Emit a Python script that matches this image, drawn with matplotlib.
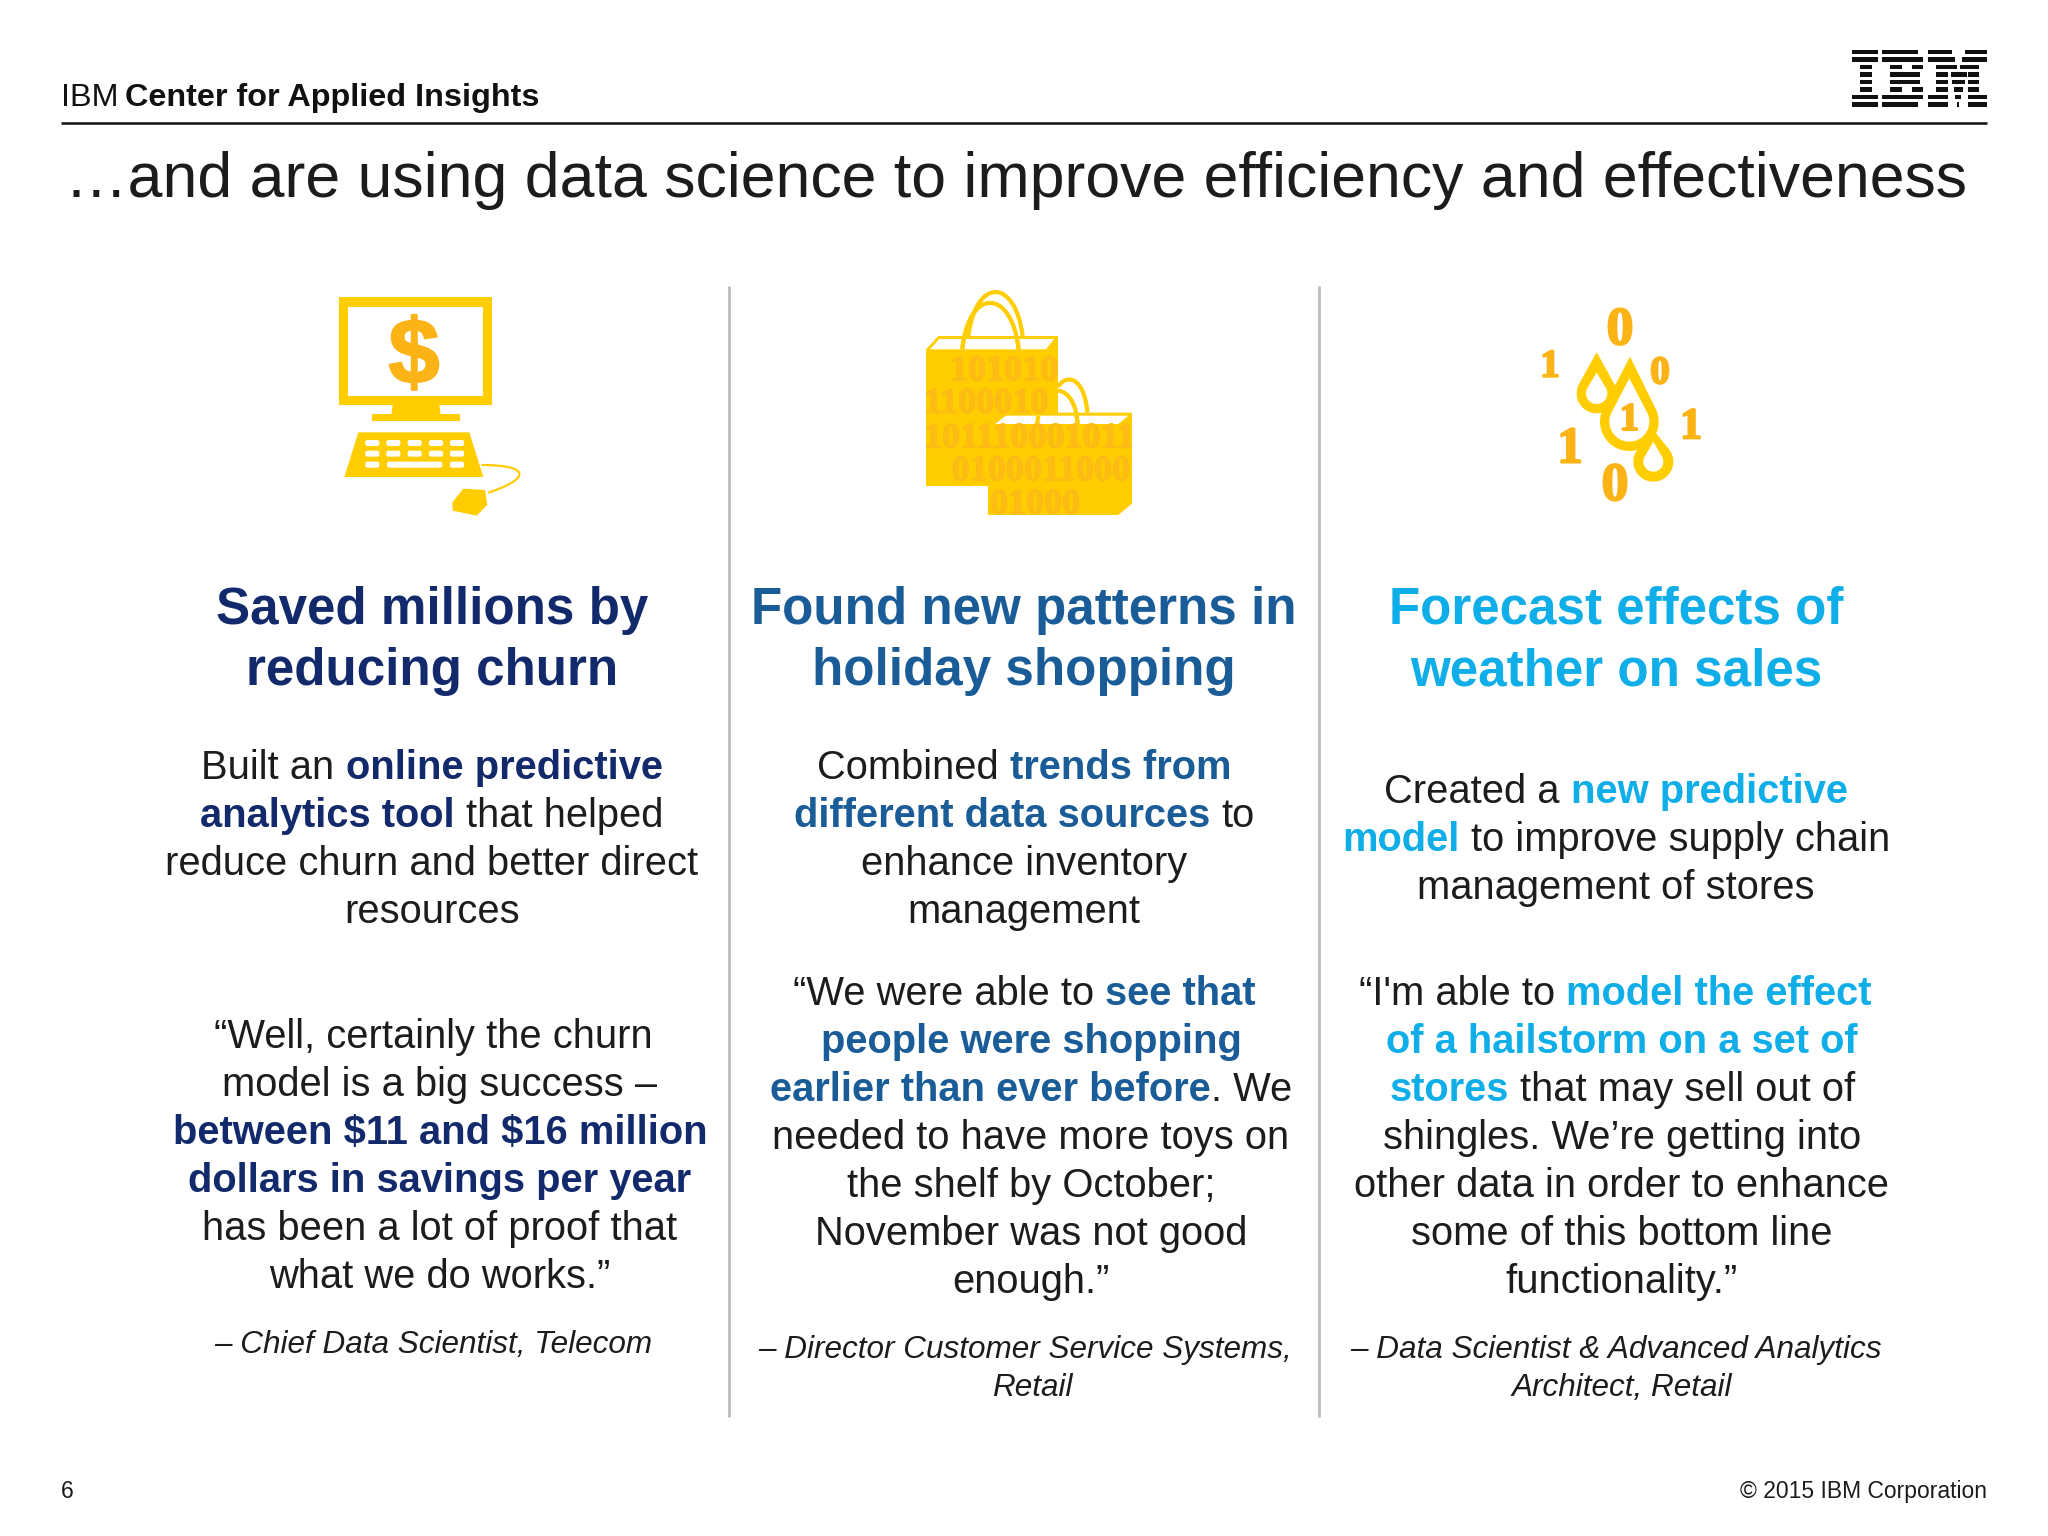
"""
IBM slide: three columns of use cases with icons, drawn in pixel coordinates.
"""

import matplotlib
matplotlib.use("Agg")
import matplotlib.patheffects as pe
import matplotlib.pyplot as plt
import numpy as np
from matplotlib.font_manager import FontProperties
from matplotlib.patches import FancyBboxPatch, PathPatch, Polygon, Rectangle
from matplotlib.path import Path

# --- slide text ---
HEADER_IBM = "IBM"
HEADER_REST = "Center for Applied Insights"
TITLE = "…and are using data science to improve efficiency and effectiveness"
PAGE = "6"
COPYRIGHT = "© 2015 IBM Corporation"

heads = [
    ["Saved millions by", "reducing churn"],
    ["Found new patterns in", "holiday shopping"],
    ["Forecast effects of", "weather on sales"],
]

# each line is a list of (text, highlighted)
body_1 = [
    [("Built an ", 0), ("online predictive", 1)],
    [("analytics tool", 1), (" that helped", 0)],
    [("reduce churn and better direct", 0)],
    [("resources", 0)],
]
body_2 = [
    [("Combined ", 0), ("trends from", 1)],
    [("different data sources", 1), (" to", 0)],
    [("enhance inventory", 0)],
    [("management", 0)],
]
body_3 = [
    [("Created a ", 0), ("new predictive", 1)],
    [("model", 1), (" to improve supply chain", 0)],
    [("management of stores", 0)],
]

quote_1 = [
    [("“Well, certainly the churn", 0)],
    [("model is a big success –", 0)],
    [("between $11 and $16 million", 1)],
    [("dollars in savings per year", 1)],
    [("has been a lot of proof that", 0)],
    [("what we do works.”", 0)],
]
quote_2 = [
    [("“We were able to ", 0), ("see that", 1)],
    [("people were shopping", 1)],
    [("earlier than ever before", 1), (". We", 0)],
    [("needed to have more toys on", 0)],
    [("the shelf by October;", 0)],
    [("November was not good", 0)],
    [("enough.”", 0)],
]
quote_3 = [
    [("“I'm able to ", 0), ("model the effect", 1)],
    [("of a hailstorm on a set of", 1)],
    [("stores", 1), (" that may sell out of", 0)],
    [("shingles. We’re getting into", 0)],
    [("other data in order to enhance", 0)],
    [("some of this bottom line", 0)],
    [("functionality.”", 0)],
]

attr_1 = ["– Chief Data Scientist, Telecom"]
attr_2 = ["– Director Customer Service Systems,", "Retail"]
attr_3 = ["– Data Scientist & Advanced Analytics", "Architect, Retail"]

binary_rows = ["101010", "1100010", "101110001011", "01000110001", "01000"]
drop_digits = ["0", "1", "0", "1", "1", "1", "0"]

# --- colours ---
INK = "#1c1c1c"
YELLOW = "#ffcd00"
AMBER = "#fbb316"
NAVY = "#122a6c"
BLUE = "#1a5c97"
CYAN = "#10aee9"
RULE = "#bdbdbd"

FONT = "Liberation Sans"

plt.rcParams["font.family"] = [FONT, "DejaVu Sans"]
plt.rcParams["text.parse_math"] = False

fig = plt.figure(figsize=(20.48, 15.36), dpi=100)
fig.patch.set_facecolor("white")
ax = fig.add_axes([0, 0, 1, 1])
ax.set_xlim(0, 2048)
ax.set_ylim(1536, 0)
ax.axis("off")
renderer = fig.canvas.get_renderer()


def width(s, fp):
    # bars on both sides so leading/trailing spaces get counted
    w1 = renderer.get_text_width_height_descent("|" + s + "|", fp, False)[0]
    w0 = renderer.get_text_width_height_descent("||", fp, False)[0]
    return w1 - w0


def fit_size(s, target, **kw):
    w = width(s, FontProperties(family=FONT, size=20, **kw))
    return 20 * target / w


BODY = fit_size("reduce churn and better direct", 530)
HEAD = fit_size("Found new patterns in", 545, weight="bold")
ATTR = fit_size("– Chief Data Scientist, Telecom", 437, style="italic")
TOP = fit_size(TITLE, 1900)
BRAND = fit_size(HEADER_REST, 414, weight="bold")
SMALL = fit_size(COPYRIGHT, 247)


def draw_runs(cx, y, runs, color):
    regular = FontProperties(family=FONT, size=BODY)
    bold = FontProperties(family=FONT, size=BODY, weight="bold")
    total = sum(width(t, bold if b else regular) for t, b in runs)
    x = cx - total / 2
    for t, b in runs:
        fp = bold if b else regular
        stripped = t.lstrip(" ")
        lead = width(t[: len(t) - len(stripped)], fp) if stripped != t else 0
        ax.text(x + lead, y, stripped, fontproperties=fp, color=color if b else INK,
                ha="left", va="baseline")
        x += width(t, fp)


def crop(x0, y0, pts):
    # zoomed crop coordinates (3x) back to slide pixels
    return [(x0 + a / 3, y0 + b / 3) for a, b in pts]


def poly(x0, y0, pts, color, z=2):
    ax.add_patch(Polygon(crop(x0, y0, pts), closed=True, facecolor=color, edgecolor="none", zorder=z))


# --- header ---
ax.text(61, 106, HEADER_IBM, fontsize=BRAND, color="#111111", ha="left", va="baseline", fontweight="light")
ax.text(125, 106, HEADER_REST, fontsize=BRAND, color="#111111", ha="left", va="baseline", fontweight="bold")
ax.plot([61, 1987], [123, 123], color="#111111", lw=1.8, solid_capstyle="butt")
ax.text(65, 197, TITLE, fontsize=TOP, color=INK, ha="left", va="baseline")

# IBM logo, eight stripes of x spans in crop coordinates
logo_rows = [
    [(97, 175), (187, 295), (325, 395), (435, 500)],
    [(97, 175), (187, 310), (325, 405), (425, 500)],
    [(120, 155), (210, 245), (275, 310), (348, 412), (420, 478)],
    [(120, 155), (210, 300), (348, 385), (392, 440), (445, 478)],
    [(120, 155), (210, 300), (348, 385), (396, 434), (445, 478)],
    [(120, 155), (210, 245), (275, 310), (348, 385), (402, 428), (445, 478)],
    [(97, 175), (187, 310), (325, 385), (406, 424), (445, 500)],
    [(97, 175), (187, 295), (325, 385), (412, 418), (445, 500)],
]
for k, spans in enumerate(logo_rows):
    top = 40 + (30 + k * 22.4) / 3
    for a, b in spans:
        ax.add_patch(Rectangle((1820 + a / 3, top), (b - a) / 3, 4.3, facecolor="#111111", edgecolor="none"))

# --- column separators ---
for x in (729, 1319):
    ax.plot([x, x], [286, 1417], color=RULE, lw=2, solid_capstyle="butt")

# --- computer icon ---
CX, CY = 310, 270
poly(CX, CY, [(87, 82), (547, 82), (547, 405), (87, 405)], YELLOW)
poly(CX, CY, [(115, 110), (519, 110), (519, 377), (115, 377)], "white", 3)
poly(CX, CY, [(248, 405), (388, 405), (392, 433), (244, 433)], YELLOW)
poly(CX, CY, [(185, 433), (449, 433), (449, 453), (185, 453)], YELLOW)
poly(CX, CY, [(145, 487), (478, 487), (520, 621), (103, 621)], YELLOW)
for row_y, keys in ((519, [(187, 42), (250, 42), (314, 42), (378, 42), (441, 42)]),
                    (551, [(187, 42), (250, 42), (314, 42), (378, 42), (441, 42)]),
                    (584, [(187, 42), (314, 166), (441, 42)])):
    for kx, kw in keys:
        ax.add_patch(FancyBboxPatch((CX + (kx - kw / 2) / 3 + 2, CY + row_y / 3 - 1), kw / 3 - 4, 2,
                                    boxstyle="round,pad=2", facecolor="white", edgecolor="none", zorder=3))
poly(CX, CY, [(427, 697), (460, 656), (525, 660), (532, 705), (500, 737), (428, 722)], YELLOW)
cable = crop(CX, CY, [(515, 585), (660, 585), (665, 625), (535, 668)])
ax.add_patch(PathPatch(Path(cable, [Path.MOVETO, Path.CURVE4, Path.CURVE4, Path.CURVE4]),
                       facecolor="none", edgecolor=YELLOW, lw=1.6))
ax.text(414, 383, "$", fontsize=66, fontweight="bold", color=AMBER, ha="center", va="baseline", zorder=4,
        path_effects=[pe.withStroke(linewidth=1.5, foreground=AMBER)])

# --- shopping bags icon ---
BX, BY = 900, 270
big_bag = crop(BX, BY, [(78, 238), (115, 198), (474, 198), (474, 648), (78, 648)])
small_bag = crop(BX, BY, [(263, 462), (300, 428), (697, 428), (697, 700), (655, 735), (263, 735)])


def handle(pts):
    ax.add_patch(PathPatch(Path(crop(BX, BY, pts), [Path.MOVETO, Path.CURVE4, Path.CURVE4, Path.CURVE4]),
                           facecolor="none", edgecolor=YELLOW, lw=3, zorder=3))


handle([(205, 198), (228, 22), (345, 22), (368, 198)])
handle([(187, 238), (205, 52), (335, 52), (356, 238)])
handle([(474, 350), (505, 305), (555, 330), (562, 428)])
handle([(474, 362), (510, 365), (530, 410), (533, 462)])
ax.add_patch(Polygon(big_bag, closed=True, facecolor=YELLOW, edgecolor="none", zorder=2))
ax.add_patch(Polygon(small_bag, closed=True, facecolor=YELLOW, edgecolor="none", zorder=2))
poly(BX, BY, [(90, 238), (118, 207), (462, 207), (438, 238)], "white", 2.5)
poly(BX, BY, [(285, 462), (318, 437), (685, 437), (655, 462)], "white", 2.6)
handle([(187, 238), (188, 228), (190, 218), (192, 207)])
handle([(356, 238), (355, 228), (352, 218), (350, 207)])
handle([(412, 462), (412, 455), (413, 445), (415, 437)])
handle([(533, 462), (532, 455), (531, 445), (529, 437)])

row_pos = [(150, 295), (72, 392), (72, 497), (155, 595), (270, 695)]
for s, (a, b) in zip(binary_rows, row_pos):
    px, py = crop(BX, BY, [(a, b)])[0]
    ax.text(px, py + 12, s, family="Liberation Serif", fontweight="bold", fontsize=26, color="#fdbc14",
            ha="left", va="baseline", zorder=2.7, path_effects=[pe.withStroke(linewidth=1, foreground="#fdbc14")])
# agg ignores clip paths on text, so white blocks trim the rows at the bag edges
poly(BX, BY, [(40, 238), (78, 238), (78, 650), (40, 650)], "white", 2.8)
poly(BX, BY, [(697, 428), (770, 428), (770, 740), (697, 740)], "white", 2.8)
poly(BX, BY, [(263, 648), (263, 740), (230, 740), (230, 648)], "white", 2.8)

# --- data drops icon ---
DX, DY = 1510, 290


def drop_shape(tip, center, r):
    tx, ty = tip
    cx, cy = center
    d = np.hypot(cx - tx, cy - ty)
    phi = np.arccos(r / d)
    th = np.linspace(phi, 2 * np.pi - phi, 60)
    return [tip] + list(zip(cx + r * np.sin(th), cy - r * np.cos(th)))


drops = [((260, 187), (260, 310), 60, (260, 248), 32),
         ((430, 420), (430, 515), 60, (430, 455), 30),
         ((360, 200), (358, 395), 88, (358, 265), 60)]
for tip, c, r, inner_tip, inner_r in drops:
    poly(DX, DY, drop_shape(tip, c, r), YELLOW, 2)
for tip, c, r, inner_tip, inner_r in drops:
    poly(DX, DY, drop_shape(inner_tip, c, inner_r), "white", 2.5)

digit_pos = [(330, 108, 110), (120, 220, 80), (450, 240, 80), (358, 380, 80),
             (543, 400, 90), (180, 465, 105), (315, 575, 110)]
for s, (a, b, h) in zip(drop_digits, digit_pos):
    px, py = crop(DX, DY, [(a, b)])[0]
    ax.text(px, py + h / 6, s, family="Liberation Serif", fontweight="bold", fontsize=h / 3 / 0.68 * 0.72,
            color=AMBER, ha="center", va="baseline", zorder=3,
            path_effects=[pe.withStroke(linewidth=1.5, foreground=AMBER)])

# --- columns ---
PITCH = 48
columns = [
    (432, 440, NAVY, body_1, 779, quote_1, 1048, attr_1, 1353, 433),
    (1024, 1031, BLUE, body_2, 779, quote_2, 1005, attr_2, 1358, 1032),
    (1616, 1622, CYAN, body_3, 803, quote_3, 1005, attr_3, 1358, 1622),
]
attr_shift = [0, -7, -6]
for (cx, qx, color, body, by, quote, qy, attr, ay, ax_x), head, shift in zip(columns, heads, attr_shift):
    for i, line in enumerate(head):
        ax.text(cx, 624 + i * 61.5, line, fontsize=HEAD, fontweight="bold", color=color,
                ha="center", va="baseline")
    for i, runs in enumerate(body):
        draw_runs(cx, by + i * PITCH, runs, color)
    for i, runs in enumerate(quote):
        # first line sits a little left, the opening quote hangs
        draw_runs(qx - 7 if i == 0 else qx, qy + i * PITCH, runs, color)
    for i, line in enumerate(attr):
        ax.text(ax_x + (shift if i == 0 else 0), ay + i * 38, line, fontsize=ATTR, style="italic",
                color=INK, ha="center", va="baseline")

# --- footer ---
ax.text(61, 1498, PAGE, fontsize=SMALL, color=INK, ha="left", va="baseline")
ax.text(1987, 1498, COPYRIGHT, fontsize=SMALL, color=INK, ha="right", va="baseline")

fig.savefig("out.png", dpi=100, facecolor="white")
plt.close(fig)
